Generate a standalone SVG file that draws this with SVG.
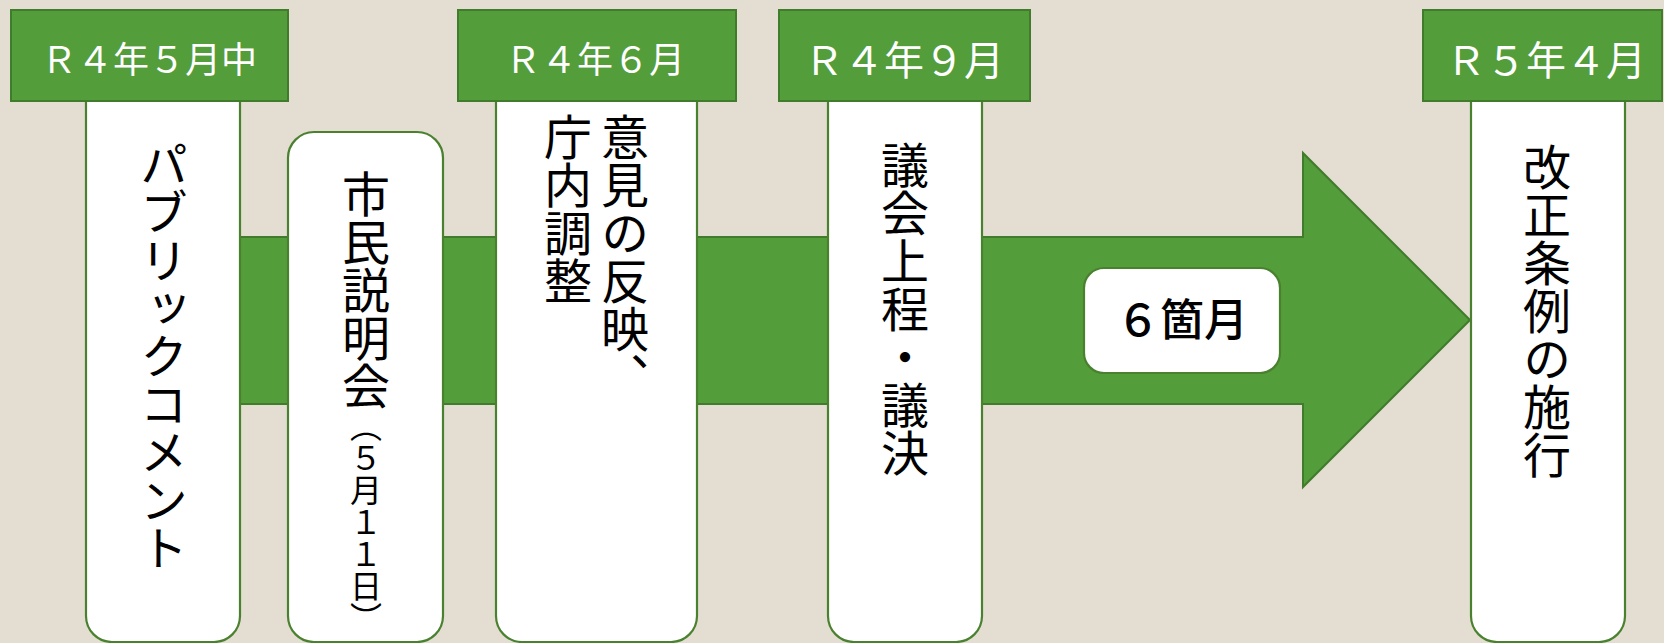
<svg xmlns="http://www.w3.org/2000/svg" width="1664" height="643" viewBox="0 0 1664 643">
<style>
.bg{fill:#E3DDD2}
.hdr{fill:#539D3A;stroke:#417B2C;stroke-width:2}
.card{fill:#FFFFFF;stroke:#4A812F;stroke-width:2.2}
.arrow{fill:#539D3A;stroke:#417B2C;stroke-width:2}
.ht{fill:#FFFFFF;font-family:"Noto Sans CJK JP","Noto Sans",sans-serif;text-anchor:middle}
.vt{fill:#000000;font-family:"Noto Sans CJK JP","Noto Sans",sans-serif;writing-mode:vertical-rl;text-anchor:start;font-size:48px}
.vs{font-size:32px}
.lbl{fill:#000000;font-family:"Noto Sans CJK JP","Noto Sans",sans-serif;text-anchor:middle;font-size:44px;font-weight:500}
</style>
<rect class="bg" x="0" y="0" width="1664" height="643"/>
<g id="connectors">
<path class="arrow" d="M86,237 L1303,237 L1303,153 L1470,320 L1303,487 L1303,404 L86,404 Z"/>
</g>
<g id="node-public-comment">
<rect class="card" x="86" y="60" width="154" height="582" rx="26"/>
<text class="vt" x="164" y="140">パブリックコメント</text>
</g>
<g id="node-briefing">
<rect class="card" x="288" y="132" width="155" height="510" rx="26"/>
<text class="vt" x="366" y="170">市民説明会</text>
<text class="vt vs" x="366" y="410">（５月１１日）</text>
</g>
<g id="node-reflect">
<rect class="card" x="496" y="60" width="201" height="582" rx="26"/>
<text class="vt" x="625" y="113">意見の反映、</text>
<text class="vt" x="568" y="113">庁内調整</text>
</g>
<g id="node-council">
<rect class="card" x="828" y="60" width="154" height="582" rx="26"/>
<text class="vt" x="905" y="141">議会上程・議決</text>
</g>
<g id="node-enforce">
<rect class="card" x="1471" y="60" width="154" height="582" rx="26"/>
<text class="vt" x="1547" y="143">改正条例の施行</text>
</g>
<g id="node-6months">
<rect class="card" x="1084" y="268" width="196" height="105" rx="20"/>
<text class="lbl" x="1182" y="336">６箇月</text>
</g>
<g id="hdr-r4-5">
<rect class="hdr" x="11" y="10" width="277" height="91"/>
<text class="ht" x="149" y="73" font-size="36">Ｒ４年５月中</text>
</g>
<g id="hdr-r4-6">
<rect class="hdr" x="458" y="10" width="278" height="91"/>
<text class="ht" x="595" y="73" font-size="36">Ｒ４年６月</text>
</g>
<g id="hdr-r4-9">
<rect class="hdr" x="779" y="10" width="251" height="91"/>
<text class="ht" x="904" y="75" font-size="40">Ｒ４年９月</text>
</g>
<g id="hdr-r5-4">
<rect class="hdr" x="1423" y="10" width="239" height="91"/>
<text class="ht" x="1546" y="75" font-size="40">Ｒ５年４月</text>
</g>
</svg>
